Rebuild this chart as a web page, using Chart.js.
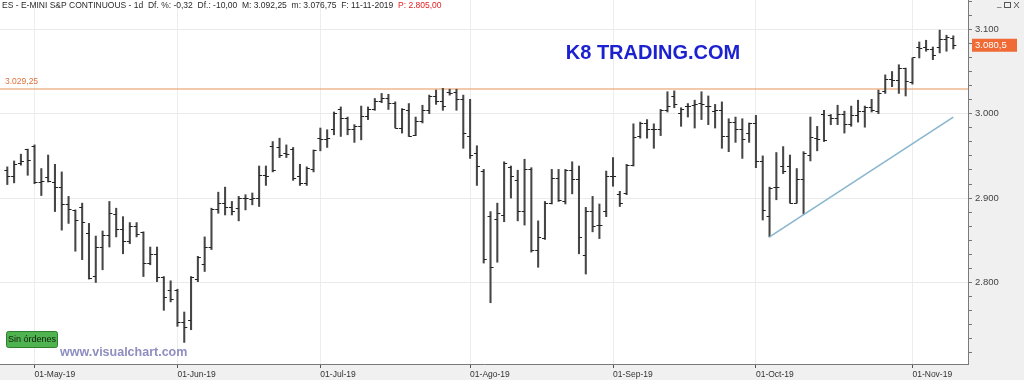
<!DOCTYPE html>
<html><head><meta charset="utf-8">
<script src="https://cdn.jsdelivr.net/npm/chart.js@4.4.1/dist/chart.umd.min.js"></script>
<style>html,body{margin:0;padding:0;background:#f0f0f0;overflow:hidden}canvas{display:block}</style>
</head><body><canvas id="c" width="1024" height="380"></canvas>
<script>
// ---- data (daily OHLC bars, ES E-mini S&P continuous) ----
const opens = [2933,2925,2941,2957,2961,2919,2924,2919,2913,2892,
  2885,2889,2858,2807,2841,2856,2881,2863,2849,2866,
  2859,2823,2833,2806,2791,2791,2753,2755,2804,2821,
  2842,2886,2894,2889,2888,2899,2898,2900,2927,2961,
  2960,2953,2958,2925,2917,2934,2971,2970,2981,3005,
  2994,2981,2985,2997,3005,3015,3018,3012,2983,3004,
  2974,2991,3004,3020,3014,3025,3025,3017,2973,2953,
  2931,2878,2875,2879,2936,2921,2884,2934,2838,2852,
  2894,2923,2896,2933,2922,2832,2884,2867,2884,2925,
  2904,2906,2939,2973,2988,2981,2981,3004,3020,3000,
  3009,3010,3012,3009,3002,3004,2973,2989,2981,2977,
  2988,2943,2878,2913,2937,2937,2894,2922,2951,2971,
  2999,2998,2994,2999,2987,2998,3003,3007,3003,3026,
  3040,3039,3054,3037,3078,3079,3076,3078,3088,3089];
const highs = [2937,2944,2952,2958,2963,2935,2951,2940,2931,2902,
  2886,2894,2870,2855,2861,2896,2888,2878,2871,2871,
  2860,2842,2842,2807,2802,2792,2765,2807,2831,2854,
  2888,2907,2913,2896,2902,2904,2906,2938,2938,2967,
  2971,2963,2960,2940,2937,2957,2983,2981,3002,3008,
  2996,2987,3009,3008,3018,3024,3023,3014,3006,3012,
  2996,3010,3022,3028,3030,3029,3029,3022,3017,2962,
  2934,2884,2894,2943,2938,2933,2946,2936,2873,2896,
  2934,2934,2934,2943,2938,2889,2902,2893,2932,2948,
  2908,2940,2988,2990,2993,2988,3005,3026,3027,3007,
  3012,3016,3026,3021,3011,3014,2994,2996,2994,2989,
  2998,2950,2913,2954,2961,2951,2935,2955,2996,2985,
  3004,2999,3010,3003,3009,3016,3009,3017,3028,3046,
  3050,3058,3054,3066,3085,3087,3079,3099,3093,3092.25];
const lows = [2916,2918,2939,2927,2917,2903,2919,2884,2862,2870,
  2837,2827,2804,2800,2815,2842,2854,2834,2846,2854,
  2807,2821,2801,2767,2777,2748,2729,2744,2801,2813,
  2839,2882,2880,2880,2873,2886,2892,2890,2915,2931,
  2948,2948,2921,2915,2915,2931,2956,2960,2975,2973,
  2975,2966,2969,2993,3004,3013,3005,2983,2977,2973,
  2974,2989,3000,3011,3004,3022,3004,2959,2947,2915,
  2823,2776,2824,2872,2900,2873,2868,2836,2818,2851,
  2893,2896,2893,2905,2834,2810,2860,2852,2878,2914,
  2890,2904,2938,2971,2971,2959,2974,3002,3007,2985,
  2996,2983,2993,2987,2983,2959,2955,2966,2947,2966,
  2936,2874,2854,2898,2929,2894,2894,2881,2944,2956,
  2967,2987,2987,2977,2985,2990,2984,3002,3000,3024,
  3032,3024,3021,3035,3066,3074,3064,3072,3074,3076.75];
const closes = [2925,2940,2943,2945,2918,2920,2920,2912,2892,2886,
  2873,2871,2805,2841,2856,2882,2863,2848,2866,2857,
  2823,2833,2806,2782,2780,2752,2747,2806,2829,2842,
  2887,2894,2889,2884,2900,2899,2899,2927,2925,2933,
  2950,2952,2923,2917,2935,2956,2969,2971,3000,2994,
  2981,2985,2997,3005,3015,3018,3012,2983,3005,2973,
  2991,3004,3020,3014,3008,3024,3017,2977,2951,2937,
  2827,2818,2882,2941,2925,2884,2934,2838,2853,2894,
  2923,2897,2933,2922,2853,2884,2866,2867,2925,2925,
  2894,2939,2972,2988,2981,2981,3004,3008,3011,3005,
  3008,3011,3011,3008,3004,2973,2989,2981,2970,2988,
  2943,2885,2911,2913,2931,2894,2922,2953,2972,2969,
  2968,2994,2999,2987,2998,3003,3007,3004,3024,3040,
  3039,3054,3038,3066,3077,3076,3069,3088,3090.5,3080.5];
const monthTickIndex = [4, 25, 46, 68, 89, 110, 133];
const monthTickLabels = ['01-May-19','01-Jun-19','01-Jul-19','01-Ago-19','01-Sep-19','01-Oct-19','01-Nov-19'];
const resistanceLevel = 3029.25;
const trendX = [112, 139];
const trendY = [2854, 2996];
const lastPrice = 3080.5;
const headerMain = 'ES - E-MINI S&P CONTINUOUS - 1d  Df. %: -0,32  Df.: -10,00  M: 3.092,25  m: 3.076,75  F: 11-11-2019  ';
const headerRed = 'P: 2.805,00';

// ---- helpers ----
function fmtEs(v, dec) {
  const s = v.toFixed(dec);
  let [i, d] = s.split('.');
  i = i.replace(/\B(?=(\d{3})+(?!\d))/g, '.');
  return d ? i + ',' + d : i;
}
function isMajor(v) { return Math.abs(v - Math.round(v / 100) * 100) < 0.01; }
function tickImage(side) {
  const c = document.createElement('canvas');
  c.width = 8; c.height = 1;
  const g = c.getContext('2d');
  g.fillStyle = '#222222';
  if (side === 'open') g.fillRect(1, 0, 3, 1); else g.fillRect(4, 0, 3, 1);
  return c;
}
function noPad(s) { s.paddingLeft = 0; s.paddingRight = 0; s.paddingTop = 0; s.paddingBottom = 0; }

const idx = highs.map((_, i) => i);
const hlData = idx.map(i => ({ x: i, y: [lows[i], highs[i]] }));
const openData = idx.map(i => ({ x: i, y: opens[i] }));
const closeData = idx.map(i => ({ x: i, y: closes[i] }));
const trendData = trendX.map((x, i) => ({ x: x, y: trendY[i] }));

const deco = {
  id: 'deco',
  beforeDraw(chart) {
    const { ctx, chartArea: a } = chart;
    ctx.save();
    ctx.fillStyle = '#f0f0f0';
    ctx.fillRect(0, 0, chart.width, chart.height);
    ctx.fillStyle = '#ffffff';
    ctx.fillRect(a.left, a.top, a.right - a.left, a.bottom - a.top);
    ctx.restore();
  },
  beforeDatasetsDraw(chart) {
    const { ctx, chartArea: a, scales: { y } } = chart;
    const py = y.getPixelForValue(resistanceLevel);
    ctx.save();
    ctx.strokeStyle = '#e8945a';
    ctx.lineWidth = 1.2;
    ctx.beginPath(); ctx.moveTo(a.left, py); ctx.lineTo(a.right, py); ctx.stroke();
    ctx.fillStyle = '#e0703a';
    ctx.font = '8.5px "Liberation Sans", Arial, sans-serif';
    ctx.textBaseline = 'alphabetic';
    ctx.fillText(fmtEs(resistanceLevel, 2), 5, py - 5);
    ctx.restore();
  },
  afterDraw(chart) {
    const { ctx, chartArea: a, scales: { y } } = chart;
    ctx.save();
    // header
    ctx.font = '8.5px "Liberation Sans", Arial, sans-serif';
    ctx.textBaseline = 'middle';
    ctx.fillStyle = '#2a2a2a';
    ctx.fillText(headerMain, 2, 6);
    const w = ctx.measureText(headerMain).width;
    ctx.fillStyle = '#e02020';
    ctx.fillText(headerRed, 2 + w, 6);
    // window controls
    ctx.fillStyle = '#555';
    ctx.font = '9px "DejaVu Sans", sans-serif';
    ctx.fillText('_', 997, 4);
    ctx.strokeStyle = '#555'; ctx.lineWidth = 1;
    ctx.strokeRect(1004.5, 2.5, 6, 5);
    ctx.beginPath(); ctx.moveTo(1014, 2); ctx.lineTo(1019, 8); ctx.moveTo(1019, 2); ctx.lineTo(1014, 8); ctx.stroke();
    // brand
    ctx.fillStyle = '#1c22cf';
    ctx.font = 'bold 20px "Liberation Sans", Arial, sans-serif';
    ctx.textAlign = 'center';
    ctx.textBaseline = 'alphabetic';
    ctx.fillText('K8 TRADING.COM', 653, 59);
    // Sin órdenes button
    ctx.textAlign = 'center';
    ctx.fillStyle = '#4fb34f';
    ctx.strokeStyle = '#2f7f2f';
    ctx.beginPath();
    ctx.roundRect(6.5, 331.5, 51, 16, 2);
    ctx.fill(); ctx.stroke();
    ctx.fillStyle = '#102010';
    ctx.font = '9px "Liberation Sans", Arial, sans-serif';
    ctx.textBaseline = 'middle';
    ctx.fillText('Sin órdenes', 32, 340);
    // watermark
    ctx.textAlign = 'left';
    ctx.fillStyle = '#8e8ec0';
    ctx.font = 'bold 12.5px "Liberation Sans", Arial, sans-serif';
    ctx.textBaseline = 'alphabetic';
    ctx.fillText('www.visualchart.com', 60, 356);
    // last price tag
    const py = y.getPixelForValue(lastPrice);
    ctx.fillStyle = '#f06a36';
    ctx.fillRect(972, py - 7, 45, 13);
    ctx.fillStyle = '#ffffff';
    ctx.font = '9.5px "Liberation Sans", Arial, sans-serif';
    ctx.textBaseline = 'middle';
    ctx.fillText(fmtEs(lastPrice, 1), 975, py);
    ctx.restore();
  }
};

new Chart(document.getElementById('c'), {
  type: 'bar',
  data: {
    datasets: [
      { type: 'line', data: trendData, borderColor: '#8ab6cf', borderWidth: 1.6, pointRadius: 0, fill: false, order: 0 },
      { type: 'bar', data: hlData, backgroundColor: '#464646', barThickness: 1.4, borderWidth: 0, order: 3 },
      { type: 'line', data: openData, showLine: false, pointStyle: tickImage('open'), pointRadius: 3, order: 2 },
      { type: 'line', data: closeData, showLine: false, pointStyle: tickImage('close'), pointRadius: 3, order: 1 }
    ]
  },
  options: {
    responsive: false,
    animation: false,
    events: [],
    devicePixelRatio: 1,
    layout: { padding: 0, autoPadding: false },
    plugins: { legend: { display: false }, tooltip: { enabled: false } },
    scales: {
      x: {
        type: 'linear', min: -1.073, max: 141.16, offset: false,
        afterBuildTicks: s => { s.ticks = monthTickIndex.map(v => ({ value: v })); },
        afterFit: s => { s.height = 16; noPad(s); },
        ticks: {
          autoSkip: false, maxRotation: 0, align: 'start', padding: 2,
          color: '#333', font: { family: '"Liberation Sans", Arial, sans-serif', size: 8.5 },
          callback: v => { const k = monthTickIndex.indexOf(v); return k >= 0 ? monthTickLabels[k] : ''; }
        },
        grid: { offset: false, color: '#ededed', tickColor: '#555', tickLength: 4 },
        border: { color: '#7a7a7a' }
      },
      y: {
        position: 'right', min: 2703.4, max: 3134.7,
        afterBuildTicks: s => {
          const t = [];
          for (let k = Math.ceil(s.min * 6 / 100); k <= Math.floor(s.max * 6 / 100); k++) t.push({ value: k * 100 / 6 });
          s.ticks = t;
        },
        afterFit: s => { s.width = 56; noPad(s); },
        ticks: {
          autoSkip: false, padding: 3, color: '#444',
          font: { family: '"Liberation Sans", Arial, sans-serif', size: 9.5 },
          callback: v => isMajor(v) ? fmtEs(Math.round(v), 0) : ''
        },
        grid: {
          color: c => (c.tick && isMajor(c.tick.value)) ? '#ebebeb' : 'rgba(0,0,0,0)',
          tickColor: '#777', tickLength: 4
        },
        border: { color: '#7a7a7a' }
      }
    }
  },
  plugins: [deco]
});
</script>
</body></html>
